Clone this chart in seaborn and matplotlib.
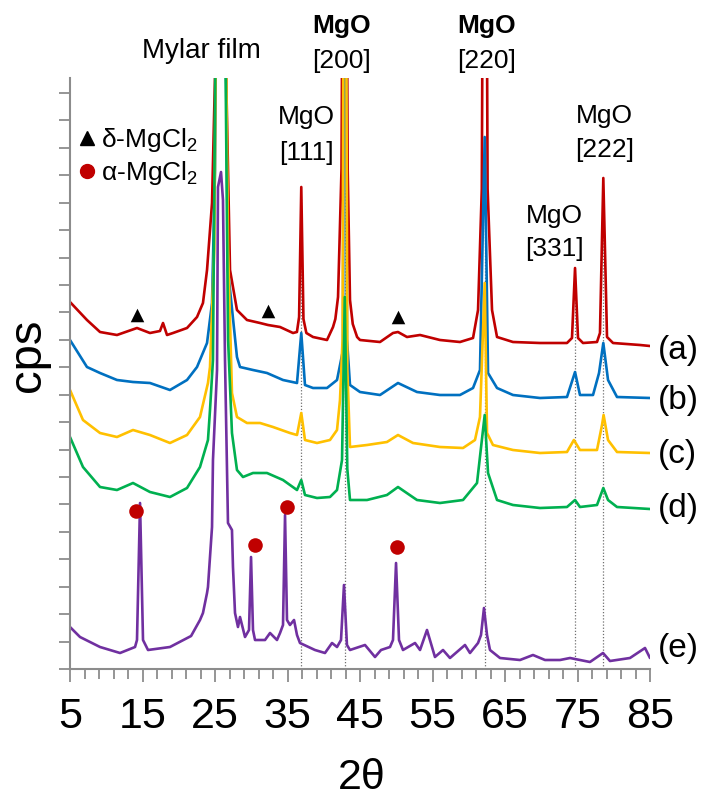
import numpy as np
import pandas as pd
import seaborn as sns
import matplotlib
matplotlib.use("Agg")
import matplotlib.pyplot as plt
from matplotlib.ticker import FixedLocator
from matplotlib.lines import Line2D

# XRD patterns (2theta in degrees, intensity in arbitrary cps,
# curves already stacked with their vertical offsets)
tt_a = [5.0, 7.34, 9.14, 11.48, 14.24, 16.03, 17.41, 17.83, 18.38, 19.21, 21.14, 22.52,
        23.34, 23.9, 24.59, 25.0, 25.7, 26.52, 27.07, 28.03, 29.41, 31.21, 32.31, 33.97,
        35.76, 36.3, 36.6, 36.9, 37.2, 37.6, 38.52, 40.45, 41.28, 41.6, 41.97, 42.45, 42.9,
        43.3, 43.62, 44.0, 44.6, 45.0, 47.76, 49.55, 50.24, 51.48, 53.28, 56.03, 58.79,
        60.59, 61.28, 61.8, 62.2, 62.6, 63.21, 63.9, 66.1, 69.83, 73.55, 74.24, 74.66,
        75.07, 75.76, 77.69, 78.1, 78.56, 79.07, 79.9, 83.62, 85.0]
cps_a = [367, 349, 337, 334, 341, 336, 338, 346, 334, 336, 341, 352,
         366, 399, 466, 592, 1200, 600, 399, 359, 349, 346, 344, 342,
         336, 337, 352, 482, 350, 336, 332, 329, 342, 350, 372, 500, 1200,
         500, 369, 345, 332, 329, 327, 336, 337, 332, 334, 329, 327,
         331, 359, 480, 1200, 480, 359, 332, 327, 326, 326, 331, 401,
         331, 326, 327, 336, 491, 332, 326, 324, 323]

tt_b = [5.0, 7.34, 9.14, 11.48, 13.69, 16.03, 18.79, 21.14, 22.52, 23.9, 24.59, 25.0,
        25.7, 26.79, 28.03, 28.45, 30.24, 32.17, 34.38, 36.31, 36.9, 37.41, 38.52, 40.45,
        41.83, 42.66, 42.9, 43.2, 43.62, 45.0, 47.76, 50.24, 52.86, 56.03, 58.79, 60.59,
        61.55, 62.2, 62.66, 63.9, 66.1, 69.83, 73.55, 74.66, 75.34, 77.14, 77.97, 78.56,
        79.21, 80.45, 85.0]
cps_b = [329, 302, 296, 289, 287, 286, 279, 289, 302, 326, 366, 499,
         1200, 399, 312, 302, 299, 296, 289, 286, 336, 284, 281, 281,
         289, 319, 1200, 330, 284, 277, 274, 286, 277, 274, 274, 281,
         299, 532, 296, 281, 274, 271, 272, 297, 274, 274, 296, 326,
         289, 272, 271]

tt_c = [5.0, 6.79, 9.14, 11.48, 13.69, 16.03, 18.79, 21.14, 22.93, 24.03, 24.31, 24.9,
        25.7, 26.8, 27.34, 28.03, 29.41, 31.21, 33.0, 35.34, 36.31, 36.9, 37.41, 39.07,
        40.86, 41.83, 42.24, 42.6, 42.9, 43.25, 43.62, 45.97, 48.72, 50.24, 52.31, 56.03,
        59.21, 60.86, 61.55, 62.2, 62.52, 63.34, 66.1, 69.83, 73.55, 74.5, 75.34, 77.69,
        78.38, 78.6, 79.21, 80.45, 85.0]
cps_c = [279, 249, 236, 232, 239, 234, 226, 234, 252, 286, 302, 420,
         1200, 420, 276, 252, 246, 246, 242, 236, 234, 256, 229, 226,
         229, 239, 269, 330, 1200, 300, 222, 224, 227, 234, 226, 222,
         221, 229, 252, 386, 236, 224, 219, 216, 217, 229, 219, 219,
         244, 254, 229, 217, 216]

tt_d = [5.0, 6.79, 9.14, 11.48, 13.69, 16.03, 18.79, 21.14, 22.93, 24.03, 24.31, 24.72,
        25.7, 26.8, 27.34, 28.03, 28.86, 30.24, 32.17, 34.38, 36.31, 36.9, 37.41, 39.07,
        40.86, 41.83, 42.52, 42.9, 43.25, 43.62, 45.97, 48.72, 50.24, 52.86, 56.03, 59.21,
        61.14, 62.2, 62.66, 63.9, 66.1, 69.83, 73.55, 74.66, 75.34, 77.69, 78.56, 79.21,
        80.45, 85.0]
cps_d = [232, 202, 182, 179, 186, 177, 172, 181, 202, 229, 259, 309,
         1200, 330, 236, 199, 192, 196, 196, 189, 179, 189, 174, 171,
         172, 179, 209, 372, 200, 169, 169, 174, 182, 169, 166, 169,
         186, 254, 196, 169, 164, 161, 162, 169, 162, 164, 181, 169,
         162, 160]

tt_e = [5.0, 6.38, 9.14, 11.9, 13.97, 14.24, 14.66, 15.07, 15.76, 18.79, 21.7, 22.93,
        23.34, 23.9, 24.03, 24.59, 24.72, 25.28, 25.41, 25.83, 26.1, 26.38, 26.79, 27.34,
        27.48, 27.76, 28.17, 28.45, 29.14, 29.69, 29.97, 30.24, 30.52, 31.9, 32.59, 33.55,
        33.97, 34.38, 34.66, 34.93, 35.34, 35.9, 36.31, 36.72, 38.79, 40.17, 41.14, 41.83,
        42.38, 42.79, 43.2, 43.62, 45.69, 47.07, 47.9, 49.14, 49.55, 49.97, 50.38, 50.93,
        52.59, 53.28, 54.24, 55.34, 56.45, 57.41, 59.48, 60.17, 61.28, 61.69, 62.1, 62.52,
        62.93, 64.31, 67.07, 68.86, 70.52, 72.59, 73.97, 76.72, 78.52, 79.48, 82.24, 84.31,
        85.0]
cps_e = [42, 32, 22, 16, 22, 29, 166, 29, 19, 22, 33, 49,
         56, 76, 82, 142, 209, 299, 482, 497, 469, 309, 146, 139,
         102, 56, 42, 52, 32, 39, 112, 39, 29, 29, 36, 29,
         36, 44, 154, 49, 44, 49, 34, 26, 19, 16, 26, 22,
         29, 84, 24, 19, 24, 12, 19, 22, 29, 106, 29, 19,
         26, 19, 39, 12, 19, 11, 24, 16, 26, 34, 61, 34,
         19, 11, 9, 14, 9, 9, 11, 7, 16, 8, 11, 21,
         11]

sample_names = ["(a)", "(b)", "(c)", "(d)", "(e)"]
sample_colors = ["#C00000", "#0070C0", "#FFC000", "#00B050", "#7030A0"]

# MgO reflections (dotted guides) and phase markers
mgo_pos = [36.9, 42.9, 62.2, 74.66, 78.56]
mgo_guide_top = [472, 479, 479, 389, 472]
delta_x = [14.24, 32.3, 50.2]
delta_y = [354, 358, 352]
alpha_x = [14.1, 30.5, 34.9, 50.1]
alpha_y = [158, 124, 162, 122]

rows = []
for name, tt, cps in zip(sample_names,
                         [tt_a, tt_b, tt_c, tt_d, tt_e],
                         [cps_a, cps_b, cps_c, cps_d, cps_e]):
    rows.append(pd.DataFrame({"two_theta": tt, "cps": cps, "sample": name}))
df = pd.concat(rows, ignore_index=True)

sns.set_theme(style="white")
plt.rcParams["font.family"] = ["Liberation Sans", "DejaVu Sans"]
plt.rcParams["text.color"] = "black"
plt.rcParams["xtick.labelcolor"] = "black"
grey = "#8c8c8c"

fig = plt.figure(figsize=(7.05, 8.01), dpi=100)
ax = fig.add_axes([70 / 705, 1 - 669 / 801, 580 / 705, 591 / 801])

ax.vlines(mgo_pos, 0, mgo_guide_top, colors="#707070", linestyles=(0, (1, 1.5)),
          linewidth=0.9, zorder=1)

sns.lineplot(data=df, x="two_theta", y="cps", hue="sample",
             palette=dict(zip(sample_names, sample_colors)),
             estimator=None, sort=False, linewidth=1.9, legend=False, ax=ax, zorder=2)

sns.scatterplot(x=delta_x, y=delta_y, marker="^", color="black", s=95,
                linewidth=0, ax=ax, zorder=4, clip_on=False)
sns.scatterplot(x=alpha_x, y=alpha_y, marker="o", color="#C00000", s=110,
                linewidth=0, ax=ax, zorder=4, clip_on=False)

ax.set_xlim(5, 85)
ax.set_ylim(0, 591)
ax.set_xlabel("")
ax.set_ylabel("")

ax.xaxis.set_major_locator(FixedLocator(np.arange(5, 86, 10)))
ax.xaxis.set_minor_locator(FixedLocator(np.arange(5, 86, 2)))
ax.yaxis.set_major_locator(FixedLocator(np.arange(0, 591, 27.43)))
ax.tick_params(axis="x", which="major", direction="out", bottom=True, length=9,
               width=1.3, color=grey, pad=11, labelsize=31, labelcolor="black")
ax.tick_params(axis="x", which="minor", direction="out", bottom=True, length=7,
               width=1.3, color=grey)
ax.tick_params(axis="y", which="major", direction="out", left=True, length=8,
               width=1.3, color=grey, labelleft=False)

for side in ["top", "right"]:
    ax.spines[side].set_visible(False)
for side in ["left", "bottom"]:
    ax.spines[side].set_color(grey)
    ax.spines[side].set_linewidth(1.5)

fig.text(28 / 705, 1 - 355 / 801, "cps", rotation=90, ha="center", va="center",
         fontsize=34)
fig.text(362 / 705, 1 - 778 / 801, "2θ", ha="center", va="center", fontsize=31)

# peak annotations
ax.text(23.07, 611, "Mylar film", ha="center", va="baseline", fontsize=20)
ax.text(42.4, 636, "MgO", ha="center", va="baseline", fontsize=19, fontweight="bold")
ax.text(42.4, 601, "[200]", ha="center", va="baseline", fontsize=19)
ax.text(62.4, 636, "MgO", ha="center", va="baseline", fontsize=19, fontweight="bold")
ax.text(62.4, 601, "[220]", ha="center", va="baseline", fontsize=19)
ax.text(37.6, 545, "MgO", ha="center", va="baseline", fontsize=19)
ax.text(37.6, 509, "[111]", ha="center", va="baseline", fontsize=19)
ax.text(78.7, 546, "MgO", ha="center", va="baseline", fontsize=19)
ax.text(78.7, 512, "[222]", ha="center", va="baseline", fontsize=19)
ax.text(71.8, 446, "MgO", ha="center", va="baseline", fontsize=19)
ax.text(71.8, 413, "[331]", ha="center", va="baseline", fontsize=19)

for name, ypos in zip(sample_names, [319, 269, 214, 161, 21]):
    ax.text(86.1, ypos, name, ha="left", va="center", fontsize=24, clip_on=False)

handles = [Line2D([], [], marker="^", color="black", linestyle="none", markersize=10),
           Line2D([], [], marker="o", color="#C00000", linestyle="none", markersize=10)]
ax.legend(handles, ["δ-MgCl$\\mathregular{_2}$", "α-MgCl$\\mathregular{_2}$"],
          loc="upper left", bbox_to_anchor=(-0.002, 0.937), frameon=False, fontsize=19,
          handlelength=0.6, handletextpad=0.2, labelspacing=0.2, borderaxespad=0.0)

fig.savefig("out.png", dpi=100)
